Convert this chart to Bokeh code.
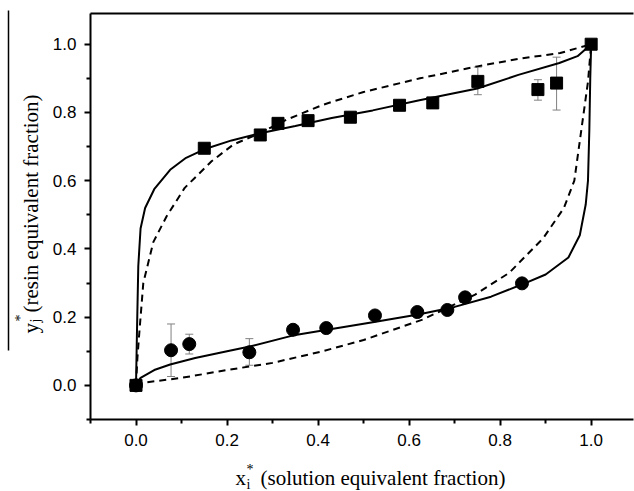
import numpy as np
from bokeh.plotting import figure
from bokeh.layouts import row, column
from bokeh.models import (ColumnDataSource, Whisker, TeeHead, LinearAxis, FixedTicker,
                          Range1d, NumeralTickFormatter)
from bokeh.core.properties import value
from bokeh.embed import file_html
from bokeh.resources import INLINE

# ---- data ----
sq_x = [0.0, 0.15, 0.273, 0.312, 0.378, 0.471, 0.579, 0.652, 0.751, 0.883, 0.924, 1.0]
sq_y = [0.0, 0.695, 0.734, 0.768, 0.776, 0.786, 0.821, 0.828, 0.891, 0.867, 0.886, 1.0]
sq_err_x = [0.751, 0.883, 0.924]
sq_err_lo = [0.852, 0.836, 0.807]
sq_err_hi = [0.933, 0.896, 0.962]

ci_x = [0.0, 0.077, 0.117, 0.249, 0.345, 0.418, 0.525, 0.618, 0.684, 0.723, 0.848]
ci_y = [0.0, 0.103, 0.121, 0.097, 0.163, 0.168, 0.205, 0.215, 0.221, 0.258, 0.299]
ci_err_x = [0.077, 0.117, 0.249]
ci_err_lo = [0.026, 0.092, 0.059]
ci_err_hi = [0.180, 0.150, 0.137]

solid_up_x = [0.0, 0.002, 0.005, 0.01, 0.02, 0.04, 0.075, 0.11, 0.15, 0.21, 0.27, 0.35,
              0.43, 0.52, 0.62, 0.75, 0.84, 0.93, 0.97, 1.0]
solid_up_y = [0.0, 0.15, 0.35, 0.46, 0.52, 0.575, 0.632, 0.667, 0.692, 0.718, 0.738, 0.76,
              0.784, 0.806, 0.835, 0.87, 0.91, 0.945, 0.965, 1.0]
solid_lo_x = [0.0, 0.01, 0.04, 0.075, 0.13, 0.2, 0.25, 0.35, 0.43, 0.52, 0.62, 0.7, 0.78,
              0.85, 0.9, 0.95, 0.975, 0.988, 0.993, 0.996, 0.998, 1.0]
solid_lo_y = [0.0, 0.022, 0.045, 0.061, 0.08, 0.1, 0.114, 0.148, 0.165, 0.185, 0.208, 0.23,
              0.26, 0.297, 0.325, 0.375, 0.44, 0.53, 0.6, 0.75, 0.9, 1.0]
dash_up_x = [0.0, 0.003, 0.007, 0.016, 0.038, 0.067, 0.107, 0.166, 0.214, 0.273, 0.331,
             0.412, 0.5, 0.624, 0.75, 0.844, 0.932, 1.0]
dash_up_y = [0.0, 0.08, 0.15, 0.3, 0.42, 0.495, 0.579, 0.657, 0.706, 0.74, 0.779,
             0.823, 0.86, 0.9, 0.935, 0.958, 0.974, 1.0]
dash_lo_x = [0.0, 0.01, 0.1, 0.2, 0.3, 0.41, 0.5, 0.63, 0.745, 0.82, 0.895, 0.94, 0.963,
             0.978, 0.993, 1.0]
dash_lo_y = [0.0, 0.007, 0.022, 0.045, 0.066, 0.1, 0.133, 0.193, 0.266, 0.33, 0.432, 0.52,
             0.6, 0.745, 0.89, 1.0]

x_ticks = [0.0, 0.2, 0.4, 0.6, 0.8, 1.0]
x_minor = [-0.1, 0.1, 0.3, 0.5, 0.7, 0.9]
y_ticks = [0.0, 0.2, 0.4, 0.6, 0.8, 1.0]
y_minor = [-0.1, 0.1, 0.3, 0.5, 0.7, 0.9]

x_title = "(solution equivalent fraction)"
y_title = "(resin equivalent fraction)"

SERIF = "Liberation Serif"
SANS = "Liberation Sans"

W, H = 634, 491
LW = 46          # strip with the y title (left)
BH = 35          # strip with the x title (bottom)
FL, FR = 44, 1   # main-plot borders left / right

# ---------------- main plot ----------------
p = figure(width=W - LW, height=H - BH, output_backend="svg", toolbar_location=None,
           x_range=Range1d(-0.1, 1.093), y_range=Range1d(-0.1, 1.09),
           min_border_left=FL, min_border_right=FR, min_border_top=13, min_border_bottom=37)
p.outline_line_color = None
p.xgrid.visible = False
p.ygrid.visible = False

for ax, ticks, minor in ((p.xaxis[0], x_ticks, x_minor), (p.yaxis[0], y_ticks, y_minor)):
    ax.ticker = FixedTicker(ticks=ticks, minor_ticks=minor)
    ax.formatter = NumeralTickFormatter(format="0.0")
    ax.axis_line_width = 2
    ax.axis_line_color = "black"
    ax.major_tick_line_width = 2
    ax.major_tick_line_color = "black"
    ax.minor_tick_line_width = 2
    ax.minor_tick_line_color = "black"
    ax.major_tick_out = 6
    ax.major_tick_in = 0
    ax.minor_tick_out = 4
    ax.minor_tick_in = 0
    ax.major_label_text_font = SANS
    ax.major_label_text_font_size = "17px"
    ax.major_label_text_color = "black"
    ax.major_label_standoff = 8

top_ax = LinearAxis(ticker=FixedTicker(ticks=[]), axis_line_width=2, axis_line_color="black",
                    major_tick_out=0, major_tick_in=0, minor_tick_out=0, minor_tick_in=0,
                    major_label_text_font_size="0px", major_label_standoff=0)
p.add_layout(top_ax, "above")

sq_err = ColumnDataSource(dict(x=sq_err_x, lo=sq_err_lo, hi=sq_err_hi))
ci_err = ColumnDataSource(dict(x=ci_err_x, lo=ci_err_lo, hi=ci_err_hi))
for src in (sq_err, ci_err):
    p.add_layout(Whisker(source=src, base="x", lower="lo", upper="hi", dimension="height",
                         line_color="#808080", line_width=1, level="underlay",
                         upper_head=TeeHead(size=8, line_color="#808080", line_width=1),
                         lower_head=TeeHead(size=8, line_color="#808080", line_width=1)))

p.line(solid_up_x, solid_up_y, line_color="black", line_width=2)
p.line(solid_lo_x, solid_lo_y, line_color="black", line_width=2)
p.line(dash_up_x, dash_up_y, line_color="black", line_width=2, line_dash="7 5")
p.line(dash_lo_x, dash_lo_y, line_color="black", line_width=2, line_dash="7 5")

p.scatter(ci_x, ci_y, marker="circle", size=13, fill_color="black", line_color="black")
p.scatter(sq_x, sq_y, marker="square", size=12, fill_color="black", line_color="black")


def strip(w, h, bl, br, x0, x1, y0, y1):
    """Title strip; x in page pixels, y in pixels measured up from the page bottom."""
    f = figure(width=w, height=h, output_backend="svg", toolbar_location=None,
               x_range=Range1d(x0, x1), y_range=Range1d(y0, y1),
               x_axis_type=None, y_axis_type=None,
               min_border_left=bl, min_border_right=br, min_border_top=0, min_border_bottom=0)
    f.outline_line_color = None
    f.xgrid.visible = False
    f.ygrid.visible = False
    return f


def txt(f, x, y, s, size, angle=0.0):
    # y given as page pixel from the top; converted to "up from bottom"
    f.text(x=[x], y=[H - y], text=[s], angle=angle, text_font=value(SERIF),
           text_font_size=size, text_color="black", text_align="left",
           text_baseline="alphabetic")

# ---------------- y-title strip ----------------
ly = strip(LW, H, 0, 0, 0, LW, 0, H)
A = np.pi / 2
txt(ly, 30, 333, "y", "21px", A)
txt(ly, 20, 321, "*", "14px", A)
txt(ly, 35, 322, "j", "14px", A)
txt(ly, 30, 312, y_title, "21px", A)
ly.segment(x0=[8], y0=[H - 10], x1=[8], y1=[H - 350], line_color="black", line_width=1.5)

# ---------------- x-title strip ----------------
bx = strip(W - LW, BH, FL, FR, LW + FL, W - FR, 0, BH)
txt(bx, 235, 477, "x", "21px")
txt(bx, 246, 469, "*", "14px")
txt(bx, 246, 484, "i", "14px")
txt(bx, 260, 477, x_title, "21px")

layout = row(ly, column(p, bx, spacing=0), spacing=0)
open("out.html", "w").write(file_html(layout, INLINE))
